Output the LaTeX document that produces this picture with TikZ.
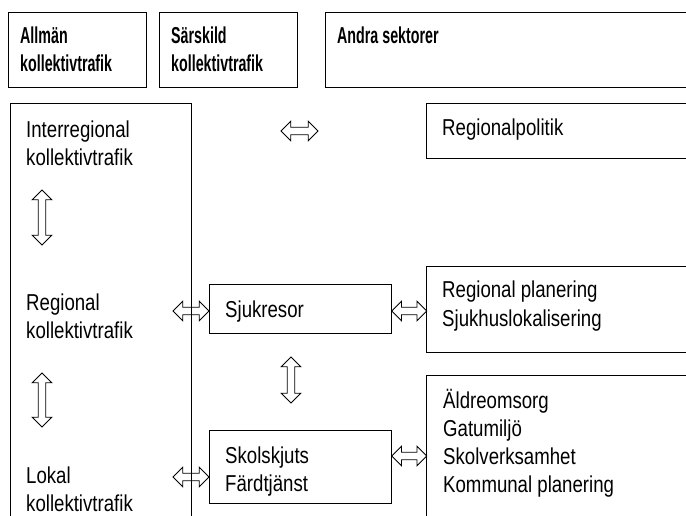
\documentclass[tikz,border=0pt]{standalone}
\usepackage{fontspec}
\setmainfont{Liberation Sans}[FakeStretch=0.81]
\newfontfamily\headfont{Liberation Sans}[FakeStretch=0.62]
\usetikzlibrary{shapes.arrows}
\newcommand\topstrut{\rule{0pt}{21pt}}
\begin{document}
\begin{tikzpicture}[x=1pt,y=-1pt,
  box/.style={draw, line width=1.4pt, inner sep=0pt, anchor=north west},
  body/.style={anchor=north west, inner sep=0pt, align=left,
    font=\fontsize{23}{28}\selectfont},
  head/.style={body, font=\headfont\bfseries\fontsize{23}{28}\selectfont},
  dblarr/.style={double arrow, draw, line width=0.9pt, inner sep=3.3pt,
    double arrow head extend=6pt, minimum width=0pt},
]
\useasboundingbox (0,0) rectangle (686,516);
\clip (0,0) rectangle (686,516);

% column headings
\node[box, minimum width=138pt, minimum height=75pt] (h1) at (8,12) {};
\node[box, minimum width=138pt, minimum height=75pt] (h2) at (159,12) {};
\node[box, minimum width=400pt, minimum height=75pt] (h3) at (325,12) {};
\node[head] (h1t) at (20,22) {\topstrut Allmän\\kollektivtrafik};
\node[head] (h2t) at (171,22) {\topstrut Särskild\\kollektivtrafik};
\node[head] (h3t) at (337,22) {\topstrut Andra sektorer};

% boxes
\node[box, minimum width=181pt, minimum height=450pt] (lbox) at (10,103) {};
\node[box, minimum width=300pt, minimum height=55pt] (rpol) at (426,103) {};
\node[box, minimum width=300pt, minimum height=86pt] (rplan) at (426,266) {};
\node[box, minimum width=300pt, minimum height=200pt] (aldre) at (426,375) {};
\node[box, minimum width=182pt, minimum height=49pt] (sjuk) at (209,284) {};
\node[box, minimum width=182pt, minimum height=73pt] (skol) at (209,430) {};

% texts
\node[body] (inter) at (26,116) {\topstrut Interregional\\kollektivtrafik};
\node[body] (regio) at (26,289) {\topstrut Regional\\kollektivtrafik};
\node[body] (lokal) at (26,462) {\topstrut Lokal\\kollektivtrafik};
\node[body] (rpolt) at (442,114) {\topstrut Regionalpolitik};
\node[body] (rplant) at (442,276) {\topstrut Regional planering\\[1pt]Sjukhuslokalisering};
\node[body] (aldret) at (443,387) {\topstrut Äldreomsorg\\Gatumiljö\\Skolverksamhet\\Kommunal planering};
\node[body] (sjukt) at (225,296) {\topstrut Sjukresor};
\node[body] (skolt) at (225,442) {\topstrut Skolskjuts\\Färdtjänst};

% free arrow ends
\coordinate (t1) at (281,131);
\coordinate (t2) at (318,131);
\coordinate (v1a) at (42,190);
\coordinate (v1b) at (42,245);
\coordinate (v2a) at (42,373);
\coordinate (v2b) at (42,427);
\coordinate (m1) at (291,357);
\coordinate (m2) at (291,403);
\coordinate (sL) at (173,311);
\coordinate (kL) at (173,477);
\coordinate (kR) at (0,456);

% double-headed arrows
\path (t1) -- (t2) node[midway, sloped, dblarr, minimum height=37pt] (a1) {};
\path (v1a) -- (v1b) node[midway, sloped, dblarr, minimum height=55pt] (a2) {};
\path (v2a) -- (v2b) node[midway, sloped, dblarr, minimum height=54pt] (a3) {};
\path (m1) -- (m2) node[midway, sloped, dblarr, minimum height=46pt] (a4) {};
\path (sL) -- (sjuk.west |- sL) node[midway, sloped, dblarr, minimum height=36pt] (a5) {};
\path (sjuk.east |- sL) -- (rplan.west |- sL) node[midway, sloped, dblarr, minimum height=35pt] (a6) {};
\path (kL) -- (skol.west |- kL) node[midway, sloped, dblarr, minimum height=36pt] (a7) {};
\path (skol.east |- kR) -- (aldre.west |- kR) node[midway, sloped, dblarr, minimum height=35pt] (a8) {};
\end{tikzpicture}
\end{document}
